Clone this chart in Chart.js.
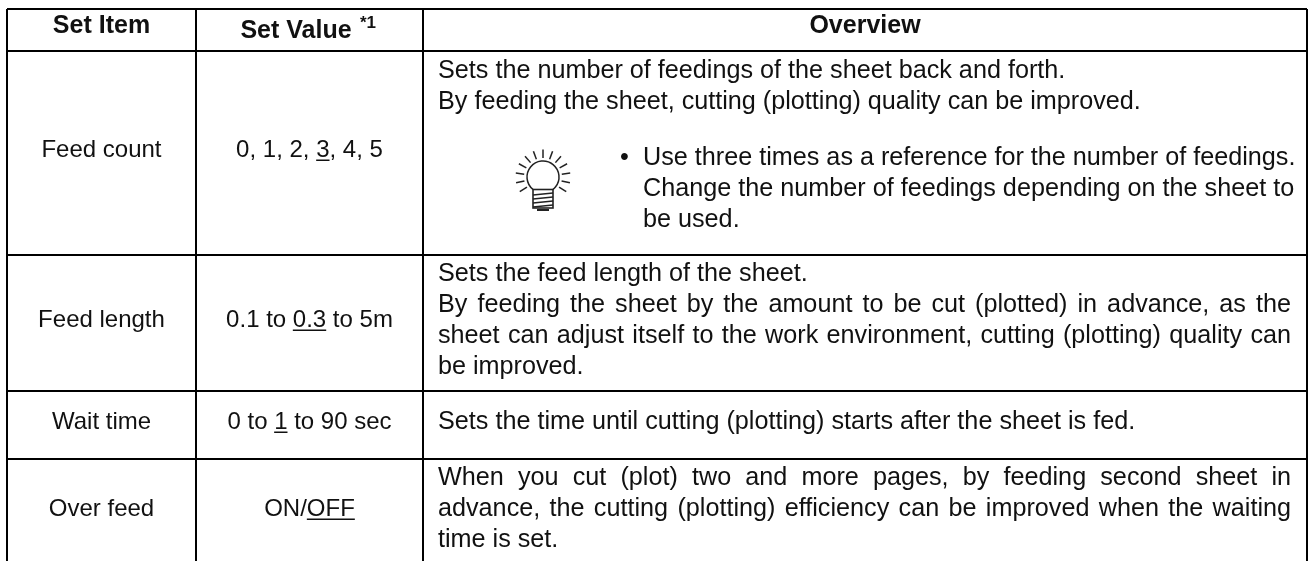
<!DOCTYPE html>
<html>
<head>
<meta charset="utf-8">
<style>
body { margin: 0; background: #fff; }
canvas { display: block; }
</style>
<script src="https://cdn.jsdelivr.net/npm/chart.js@4"></script>
</head>
<body>
<canvas id="chart" width="1309" height="561"></canvas>
<script>
// table content
const headers = ['Set Item', 'Set Value', 'Overview'];
const headerNote = '*1';
const setItems = ['Feed count', 'Feed length', 'Wait time', 'Over feed'];
// a value is split in [before, underlined, after]
const setValues = [
	['0, 1, 2, ', '3', ', 4, 5'],
	['0.1 to ', '0.3', ' to 5m'],
	['0 to ', '1', ' to 90 sec'],
	['ON/', 'OFF', '']
];
const overviewFeedCount = [
	'Sets the number of feedings of the sheet back and forth.',
	'By feeding the sheet, cutting (plotting) quality can be improved.'
];
const noteFeedCount = [
	'Use three times as a reference for the number of feedings.',
	'Change the number of feedings depending on the sheet to',
	'be used.'
];
const overviewFeedLength = [
	'Sets the feed length of the sheet.',
	'By feeding the sheet by the amount to be cut (plotted) in advance, as the',
	'sheet can adjust itself to the work environment, cutting (plotting) quality can',
	'be improved.'
];
const overviewWaitTime = ['Sets the time until cutting (plotting) starts after the sheet is fed.'];
const overviewOverFeed = [
	'When you cut (plot) two and more pages, by feeding second sheet in',
	'advance, the cutting (plotting) efficiency can be improved when the waiting',
	'time is set.'
];
// lines stretched to the right margin of the cell
const justifiedFeedLength = [false, true, true, false];
const justifiedOverFeed = [true, true, false];

// table geometry, in the units of the axes
const colEdges = [7, 196, 423, 1307];
const rowEdges = [9, 51, 255, 391, 459];
const tableBottom = 561;
const rowBaselines = [157, 327, 429, 516];
const textLeft = 438;
const textRight = 1291;
const noteLeft = 643;
const bulletX = 620;
const lineStep = 31;
const bulbX = 543;
const bulbY = 177;

const font = '"Liberation Sans", Arial, sans-serif';
const ink = '#111';

function drawText(ctx, text, x, y, wordSpacing) {
	ctx.wordSpacing = (wordSpacing || 0) + 'px';
	ctx.fillText(text, x, y);
	ctx.wordSpacing = '0px';
}

function drawJustified(ctx, text, left, right, y) {
	const gaps = text.split(' ').length - 1;
	const extra = (right - left - ctx.measureText(text).width) / gaps;
	drawText(ctx, text, left, y, extra);
}

function drawValue(ctx, parts, cx, y) {
	const total = ctx.measureText(parts.join('')).width;
	let x = cx - total / 2;
	parts.forEach((part, i) => {
		ctx.fillText(part, x, y);
		const w = ctx.measureText(part).width;
		if (i === 1) {
			ctx.fillRect(x, y + 2.5, w, 1.5);
		}
		x += w;
	});
}

function drawBulb(ctx, x, y) {
	ctx.save();
	ctx.translate(x, y);
	ctx.strokeStyle = '#222';
	ctx.lineWidth = 1.5;
	ctx.beginPath();
	ctx.arc(0, 0, 16, 129 * Math.PI / 180, 51 * Math.PI / 180);
	ctx.stroke();
	for (let i = -6; i <= 6; i++) {
		const a = i * 20.4 * Math.PI / 180 - Math.PI / 2;
		ctx.beginPath();
		ctx.moveTo(Math.cos(a) * 19, Math.sin(a) * 19);
		ctx.lineTo(Math.cos(a) * 27.5, Math.sin(a) * 27.5);
		ctx.stroke();
	}
	ctx.lineWidth = 1.6;
	ctx.strokeRect(-10, 12.5, 20, 18.5);
	[17, 21, 25, 29].forEach(dy => {
		ctx.beginPath();
		ctx.moveTo(-10, dy + 1);
		ctx.lineTo(10, dy - 1);
		ctx.stroke();
	});
	ctx.lineWidth = 2;
	ctx.beginPath();
	ctx.moveTo(-6, 33);
	ctx.lineTo(6, 33);
	ctx.stroke();
	ctx.restore();
}

const tableText = {
	id: 'tableText',
	afterDraw(chart) {
		const ctx = chart.ctx;
		const xs = chart.scales.x;
		const ys = chart.scales.y;
		const px = v => xs.getPixelForValue(v);
		const py = v => ys.getPixelForValue(v);
		const colCentre = i => (px(colEdges[i]) + px(colEdges[i + 1])) / 2;

		ctx.save();
		ctx.fillStyle = ink;
		ctx.textBaseline = 'alphabetic';

		// header
		ctx.font = 'bold 25px ' + font;
		ctx.textAlign = 'center';
		ctx.fillText(headers[0], colCentre(0), py(33));
		ctx.fillText(headers[1], px(296), py(38));
		ctx.fillText(headers[2], colCentre(2), py(33));
		ctx.textAlign = 'left';
		ctx.font = 'bold 17px ' + font;
		ctx.fillText(headerNote, px(360), py(28));

		// first two columns
		ctx.font = '24px ' + font;
		setItems.forEach((item, i) => {
			const y = py(rowBaselines[i]);
			ctx.textAlign = 'center';
			ctx.fillText(item, colCentre(0), y);
			ctx.textAlign = 'left';
			drawValue(ctx, setValues[i], colCentre(1), y);
		});

		// overview column
		ctx.font = '25.2px ' + font;
		ctx.textAlign = 'left';
		overviewFeedCount.forEach((line, i) => {
			drawText(ctx, line, px(textLeft), py(78 + i * lineStep));
		});
		ctx.fillText('•', px(bulletX), py(165));
		noteFeedCount.forEach((line, i) => {
			drawText(ctx, line, px(noteLeft), py(165 + i * lineStep));
		});
		overviewFeedLength.forEach((line, i) => {
			const y = py(281 + i * lineStep);
			if (justifiedFeedLength[i]) drawJustified(ctx, line, px(textLeft), px(textRight), y);
			else drawText(ctx, line, px(textLeft), y);
		});
		drawText(ctx, overviewWaitTime[0], px(textLeft), py(429));
		overviewOverFeed.forEach((line, i) => {
			const y = py(485 + i * lineStep);
			if (justifiedOverFeed[i]) drawJustified(ctx, line, px(textLeft), px(textRight), y);
			else drawText(ctx, line, px(textLeft), y);
		});

		drawBulb(ctx, px(bulbX), py(bulbY));
		ctx.restore();
	}
};

new Chart(document.getElementById('chart').getContext('2d'), {
	type: 'scatter',
	data: { datasets: [{ data: [] }] },
	plugins: [tableText],
	options: {
		responsive: false,
		animation: false,
		layout: { padding: { left: colEdges[0], right: 1309 - colEdges[3], top: rowEdges[0], bottom: 0 } },
		plugins: { legend: { display: false }, tooltip: { enabled: false } },
		scales: {
			x: {
				type: 'linear',
				min: colEdges[0],
				max: colEdges[3],
				afterBuildTicks: scale => { scale.ticks = colEdges.map(v => ({ value: v })); },
				ticks: { display: false },
				grid: { color: '#000', lineWidth: 2, drawTicks: false },
				border: { display: false }
			},
			y: {
				type: 'linear',
				reverse: true,
				min: rowEdges[0],
				max: tableBottom,
				afterBuildTicks: scale => { scale.ticks = rowEdges.map(v => ({ value: v })); },
				ticks: { display: false },
				grid: { color: '#000', lineWidth: 2, drawTicks: false },
				border: { display: false }
			}
		}
	}
});
</script>
</body>
</html>
